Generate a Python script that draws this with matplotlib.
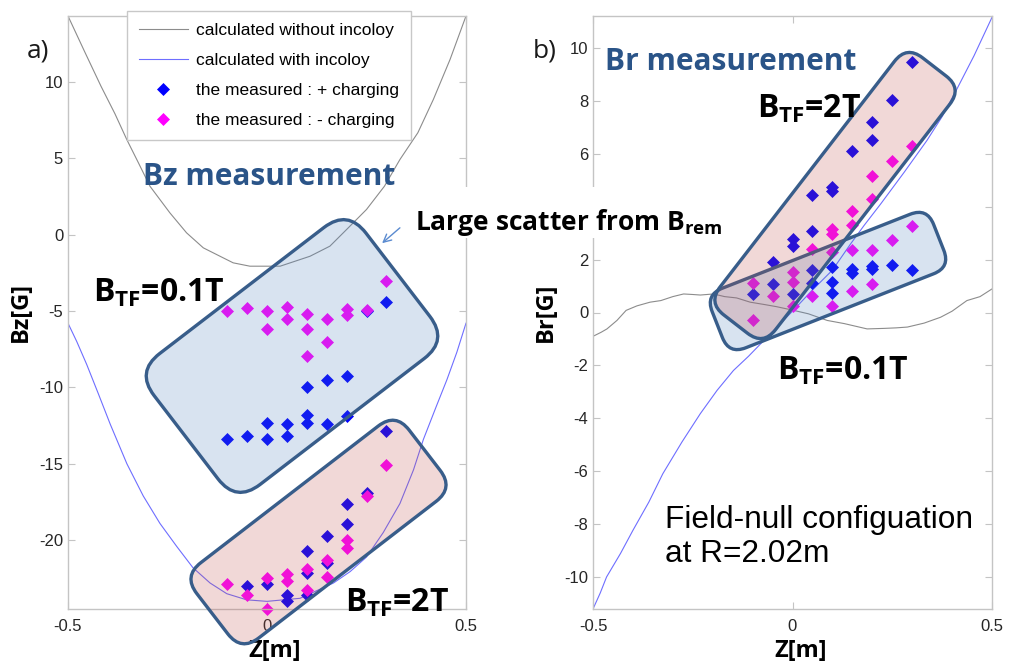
import matplotlib
matplotlib.use("Agg")
import matplotlib.pyplot as plt
from matplotlib.patches import FancyBboxPatch, FancyArrowPatch, Rectangle
from matplotlib.transforms import Affine2D

# ---------------- data ----------------
# Bz along Z: calculated curves
bz_curve_z_free = [-0.5, -0.457, -0.417, -0.382, -0.352, -0.323, -0.294, -0.244, -0.202, -0.16,
                   -0.118, -0.085, -0.043, 0.033, 0.108, 0.158, 0.2, 0.25, 0.295, 0.334,
                   0.379, 0.418, 0.46, 0.5]
bz_curve_free = [14.3, 11.9, 9.7, 7.9, 6.2, 4.69, 3.16, 1.42, 0.11, -0.87,
                 -1.42, -1.85, -2.07, -2.07, -1.42, -0.76, 0.33, 1.64, 3.16, 4.91,
                 6.66, 8.84, 11.46, 14.3]
bz_curve_z_inc = [-0.5, -0.478, -0.453, -0.424, -0.394, -0.352, -0.311, -0.269, -0.227, -0.186,
                  -0.143, -0.101, -0.051, 0.0, 0.083, 0.167, 0.209, 0.25, 0.292, 0.334,
                  0.368, 0.393, 0.426, 0.452, 0.477, 0.5]
bz_curve_inc = [-5.8, -7.0, -8.5, -10.4, -12.4, -15.0, -17.1, -18.9, -20.4, -21.8,
                -22.8, -23.5, -23.9, -24.0, -23.8, -22.8, -22.05, -21.1, -19.5, -17.6,
                -15.4, -13.4, -11.2, -9.5, -7.7, -5.8]

# Bz measurements, BTF = 0.1 T
bz_low_z_pos = [-0.1, -0.05, 0.0, 0.0, 0.05, 0.05, 0.1, 0.1, 0.1, 0.15, 0.15, 0.2, 0.2, 0.25, 0.3]
bz_low_pos = [-13.36, -13.16, -12.33, -13.38, -12.4, -13.2, -9.98, -11.8, -12.33, -9.54, -12.4, -9.28, -11.85, -5.02, -4.39]
bz_low_z_neg = [-0.1, -0.05, 0.0, 0.0, 0.05, 0.05, 0.1, 0.1, 0.1, 0.15, 0.15, 0.2, 0.2, 0.25, 0.3]
bz_low_neg = [-4.98, -4.8, -4.98, -6.18, -4.76, -5.52, -5.2, -6.18, -7.97, -5.52, -7.05, -4.87, -5.24, -4.96, -3.06]

# Bz measurements, BTF = 2 T
bz_high_z_pos = [-0.05, 0.0, 0.05, 0.05, 0.1, 0.1, 0.1, 0.15, 0.15, 0.2, 0.2, 0.25, 0.3]
bz_high_pos = [-22.97, -22.85, -23.6, -24.0, -20.7, -22.15, -23.6, -19.7, -21.5, -17.66, -18.95, -16.9, -12.88]
bz_high_z_neg = [-0.1, -0.05, 0.0, 0.0, 0.05, 0.05, 0.1, 0.1, 0.15, 0.15, 0.2, 0.2, 0.25, 0.3]
bz_high_neg = [-22.85, -23.6, -22.5, -24.5, -22.2, -22.7, -21.9, -23.25, -21.3, -22.4, -20.0, -20.5, -17.1, -15.06]

# Br along Z: calculated curves
br_curve_z_free = [-0.5, -0.48, -0.465, -0.44, -0.417, -0.39, -0.357, -0.33, -0.3, -0.273,
                   -0.25, -0.231, -0.198, -0.17, -0.14, -0.106, -0.07, -0.04, 0.003, 0.04,
                   0.087, 0.13, 0.187, 0.23, 0.26, 0.288, 0.33, 0.371, 0.4, 0.437, 0.47, 0.5]
br_curve_free = [-0.9, -0.75, -0.62, -0.3, 0.08, 0.25, 0.39, 0.45, 0.6, 0.7,
                 0.68, 0.66, 0.7, 0.6, 0.55, 0.39, 0.3, 0.22, 0.08, -0.05,
                 -0.3, -0.42, -0.62, -0.6, -0.58, -0.55, -0.4, -0.18, 0.05, 0.45, 0.6, 0.89]
br_curve_z_inc = [-0.5, -0.482, -0.466, -0.431, -0.4, -0.36, -0.325, -0.277, -0.231, -0.189,
                  -0.148, -0.11, -0.072, 0.0, 0.05, 0.1, 0.146, 0.18, 0.221, 0.28,
                  0.337, 0.375, 0.412, 0.455, 0.5]
br_curve_inc = [-11.2, -10.6, -9.99, -9.1, -8.23, -7.16, -6.09, -4.89, -3.82, -2.94,
                -2.19, -1.65, -1.06, 0.05, 0.85, 1.6, 2.6, 3.3, 4.1, 5.3,
                6.5, 7.4, 8.44, 9.7, 11.15]

# Br measurements, BTF = 2 T
br_high_z_pos = [-0.1, -0.05, 0.0, 0.0, 0.05, 0.05, 0.1, 0.1, 0.15, 0.2, 0.2, 0.25, 0.3]
br_high_pos = [0.68, 1.9, 2.78, 2.53, 4.42, 3.09, 4.73, 4.6, 6.11, 7.18, 6.53, 8.04, 9.45]
br_high_z_neg = [-0.1, -0.1, 0.0, 0.0, 0.05, 0.1, 0.1, 0.15, 0.15, 0.2, 0.2, 0.25, 0.3]
br_high_neg = [-0.3, 1.1, 1.52, 1.14, 2.4, 3.16, 2.97, 3.85, 3.32, 5.17, 4.29, 5.74, 6.3]

# Br measurements, BTF = 0.1 T
br_low_z_pos = [-0.05, 0.0, 0.05, 0.05, 0.1, 0.1, 0.1, 0.15, 0.15, 0.2, 0.2, 0.25, 0.3]
br_low_pos = [1.06, 0.68, 1.62, 1.1, 1.7, 1.14, 0.72, 1.63, 1.48, 1.77, 1.66, 1.8, 1.6]
br_low_z_neg = [-0.05, 0.0, 0.05, 0.1, 0.1, 0.15, 0.15, 0.2, 0.2, 0.25, 0.3]
br_low_neg = [0.64, 0.24, 0.64, 2.28, 0.24, 2.37, 0.8, 2.37, 1.08, 2.72, 3.28]

x_ticks = [-0.5, 0, 0.5]
x_tick_labels = ["-0.5", "0", "0.5"]
bz_ticks = [-20, -15, -10, -5, 0, 5, 10]
bz_tick_labels = ["-20", "-15", "-10", "-5", "0", "5", "10"]
br_ticks = [-10, -8, -6, -4, -2, 0, 2, 4, 6, 8, 10]
br_tick_labels = ["-10", "-8", "-6", "-4", "-2", "0", "2", "", "6", "8", "10"]

legend_labels = ["calculated without incoloy", "calculated with incoloy",
                 "the measured : + charging", "the measured : - charging"]

# ---------------- style ----------------
W, H = 1009, 663
plt.rcParams["font.family"] = ["Liberation Sans", "DejaVu Sans"]
plt.rcParams["mathtext.fontset"] = "custom"
plt.rcParams["mathtext.bf"] = "Open Sans:bold"
plt.rcParams["mathtext.rm"] = "Open Sans:bold"
plt.rcParams["mathtext.it"] = "Open Sans:bold"

BOLD = "Open Sans"
C_FREE = "#8c8c8c"
C_INC = "#6e6eff"
C_POS = "#0000ff"
C_NEG = "#ff00ff"
C_TITLE = "#2a5488"
C_EDGE = "#385d8a"
FILL_BLUE = (79 / 255, 129 / 255, 189 / 255, 0.22)
FILL_RED = (192 / 255, 80 / 255, 77 / 255, 0.22)
SPINE = "#c4c4c4"

fig = plt.figure(figsize=(W / 100, H / 100), dpi=100)


def px_axes(x0, x1, y_top, y_bot):
    return fig.add_axes([x0 / W, 1 - y_bot / H, (x1 - x0) / W, (y_bot - y_top) / H])


ax1 = px_axes(68, 466, 16, 609)
ax2 = px_axes(593, 992, 16, 609)

mk = dict(marker="D", linestyle="none", markersize=6.0, clip_on=False, markeredgewidth=0.5)

# ---- panel a: Bz ----
ax1.plot(bz_curve_z_free, bz_curve_free, color=C_FREE, lw=0.8, label=legend_labels[0])
ax1.plot(bz_curve_z_inc, bz_curve_inc, color=C_INC, lw=0.8, label=legend_labels[1])
ax1.plot(bz_low_z_pos, bz_low_pos, color=C_POS, label=legend_labels[2], **mk)
ax1.plot(bz_low_z_neg, bz_low_neg, color=C_NEG, label=legend_labels[3], **mk)
ax1.plot(bz_high_z_pos, bz_high_pos, color=C_POS, **mk)
ax1.plot(bz_high_z_neg, bz_high_neg, color=C_NEG, **mk)
ax1.set_xlim(-0.5, 0.5)
ax1.set_ylim(-24.5, 14.3)
ax1.set_yticks(bz_ticks)
ax1.set_yticklabels(bz_tick_labels)

# ---- panel b: Br ----
ax2.plot(br_curve_z_free, br_curve_free, color=C_FREE, lw=0.8)
ax2.plot(br_curve_z_inc, br_curve_inc, color=C_INC, lw=0.8)
ax2.plot(br_high_z_pos, br_high_pos, color=C_POS, **mk)
ax2.plot(br_high_z_neg, br_high_neg, color=C_NEG, **mk)
ax2.plot(br_low_z_pos, br_low_pos, color=C_POS, **mk)
ax2.plot(br_low_z_neg, br_low_neg, color=C_NEG, **mk)
ax2.set_xlim(-0.5, 0.5)
ax2.set_ylim(-11.2, 11.2)
ax2.set_yticks(br_ticks)
ax2.set_yticklabels(br_tick_labels)

for ax in (ax1, ax2):
    ax.set_xticks(x_ticks)
    ax.set_xticklabels(x_tick_labels)
    ax.tick_params(direction="in", top=True, right=True, length=5, width=0.8,
                   color=SPINE, labelcolor="#262626", labelsize=12)
    ax.tick_params(axis="x", pad=7.5)
    ax.tick_params(axis="y", pad=3.5)
    for s in ax.spines.values():
        s.set_color(SPINE)
        s.set_linewidth(1.0)
    ax.set_xlabel("Z[m]", fontfamily=BOLD, fontweight="bold", fontsize=17)
    ax.xaxis.set_label_coords(0.52, -0.05)

ax1.set_ylabel("Bz[G]", fontfamily=BOLD, fontweight="bold", fontsize=17)
ax2.set_ylabel("Br[G]", fontfamily=BOLD, fontweight="bold", fontsize=17)
ax1.yaxis.set_label_coords(-0.088, 0.5)
ax2.yaxis.set_label_coords(-0.088, 0.5)

leg = ax1.legend(loc="upper left", bbox_to_anchor=(127 / W, 1 - 10.7 / H),
                 bbox_transform=fig.transFigure, fontsize=12.5, handlelength=2.8,
                 handletextpad=0.45, labelspacing=0.85, borderpad=0.7,
                 fancybox=False, framealpha=1, borderaxespad=0)
leg.get_frame().set_edgecolor("#c8c8c8")
leg.get_frame().set_linewidth(1.0)
leg.set_zorder(5)


# ---- translucent rounded boxes around the measurement groups ----
def rounded_box(cx, cy, w, h, angle, radius, face):
    dx, dy = cx, H - cy
    box = FancyBboxPatch((dx - w / 2, dy - h / 2), w, h,
                         boxstyle=f"round,pad=0,rounding_size={radius}",
                         facecolor=face, edgecolor=C_EDGE, linewidth=2.4,
                         transform=Affine2D().rotate_deg_around(dx, dy, angle),
                         zorder=2)
    fig.add_artist(box)


rounded_box(292, 356, 267, 165, 37.5, 30, FILL_BLUE)
rounded_box(318.5, 532, 268, 95, 37.6, 22, FILL_RED)
rounded_box(828, 281, 238, 64, 21.5, 18, FILL_BLUE)
rounded_box(835, 195.5, 325, 70, 52.3, 20, FILL_RED)


def ftext(x, y, s, **kw):
    kw.setdefault("va", "baseline")
    kw.setdefault("zorder", 4)
    return fig.text(x / W, 1 - y / H, s, **kw)


# panel tags
ftext(27, 57, "a)", fontsize=19, fontfamily="Open Sans", color="#1a1a1a")
ftext(533, 57, "b)", fontsize=19, fontfamily="Open Sans", color="#1a1a1a")

# panel titles
ftext(143, 185, "Bz measurement", fontsize=21.5, fontfamily=BOLD, fontweight="bold", color=C_TITLE)
ftext(605, 70, "Br measurement", fontsize=21.5, fontfamily=BOLD, fontweight="bold", color=C_TITLE)

# field labels
tf_kw = dict(fontsize=23, fontfamily=BOLD, fontweight="bold", color="black")
ftext(93, 302, r"B$_{\mathbf{TF}}$=0.1T", **tf_kw)
ftext(345, 612, r"B$_{\mathbf{TF}}$=2T", **tf_kw)
ftext(757, 118, r"B$_{\mathbf{TF}}$=2T", **tf_kw)
ftext(777, 380, r"B$_{\mathbf{TF}}$=0.1T", **tf_kw)

# remanent field note with a white backing
fig.add_artist(Rectangle((410 / W, 1 - 238 / H), (740 - 410) / W, (238 - 187) / H,
                         transform=fig.transFigure, facecolor="white", edgecolor="none",
                         zorder=3))
ftext(415, 230, r"Large scatter from B$_{\mathbf{rem}}$", fontsize=19, fontfamily=BOLD,
      fontweight="bold", color="black")
fig.add_artist(FancyArrowPatch((402 / W, 1 - 226 / H), (380 / W, 1 - 245 / H),
                               transform=fig.transFigure, arrowstyle="->",
                               mutation_scale=14, color="#5b8bd0", lw=1.0, zorder=4))

# configuration note
ftext(665, 528, "Field-null configuation", fontsize=22.8, color="black")
ftext(665, 562, "at R=2.02m", fontsize=22.8, color="black")

fig.savefig("out.png", dpi=100)
